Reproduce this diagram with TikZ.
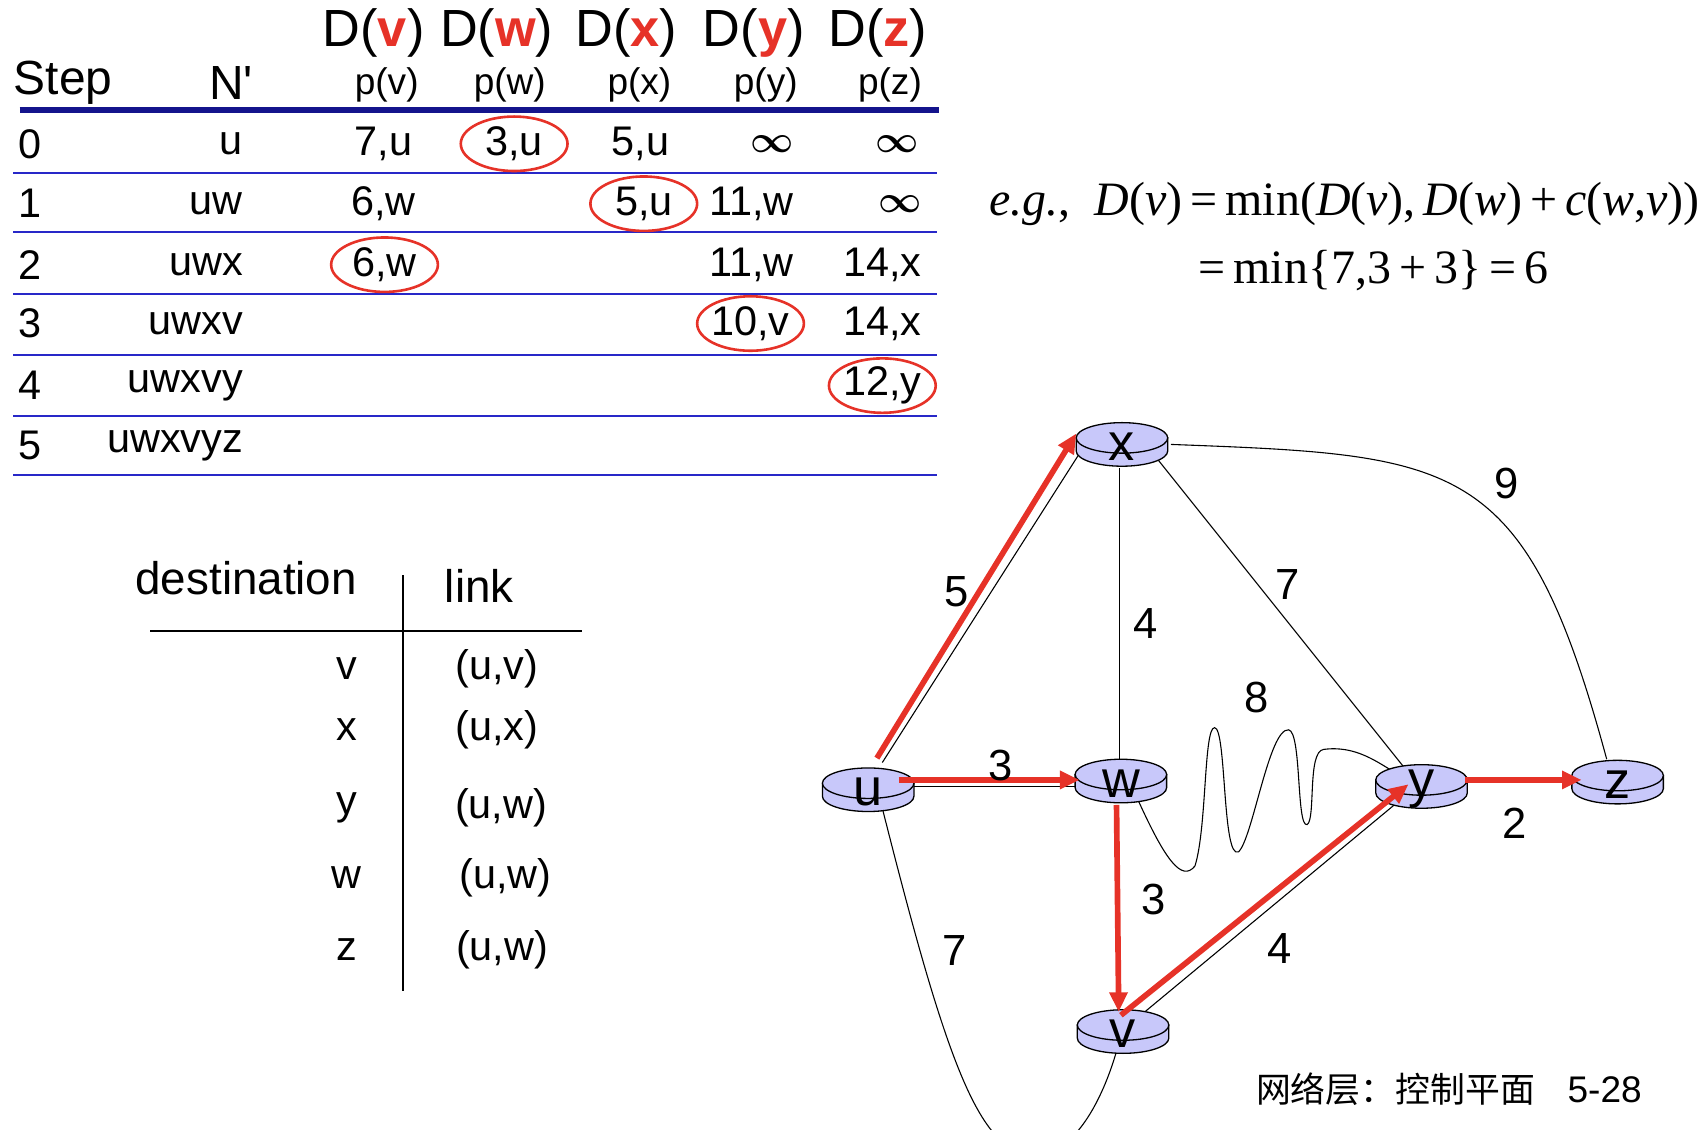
\documentclass[tikz,border=0pt]{standalone}
\usepackage{amsmath}
\usepackage{fontspec}
\setmainfont{Liberation Sans}
\newfontfamily\serf{Liberation Serif}
\newfontfamily\cjk{Noto Sans CJK SC}
\definecolor{navy}{RGB}{20,20,140}
\definecolor{rowblue}{RGB}{40,40,200}
\definecolor{redc}{RGB}{230,50,40}
\definecolor{lav}{RGB}{200,200,250}
\tikzset{
 hd/.style={font=\fontsize{24}{28}\selectfont},
 ph/.style={font=\fontsize{17}{20}\selectfont},
 cell/.style={font=\fontsize{19}{22}\selectfont},
 circ/.style={draw=redc,line width=1.2pt,ellipse,minimum width=49pt,minimum height=25pt,inner sep=0},
 lbl/.style={font=\fontsize{20}{22}\selectfont},
 rl/.style={font=\fontsize{24}{26}\selectfont},
 red/.style={draw=redc,line width=2.6pt,-{Triangle[length=9pt,width=8pt]}},
 thin/.style={draw=black,line width=0.5pt},
 rowline/.style={draw=rowblue,line width=1pt},
}
\usetikzlibrary{shapes.geometric,arrows.meta}
\newcommand{\router}[3]{%
 \fill[lav,draw=black,line width=0.6pt] (#1-42,#2-5) -- (#1-42,#2+7) arc[start angle=180,end angle=360,x radius=21pt,y radius=7pt] -- (#1+42,#2-5) -- cycle;
 \filldraw[fill=lav,draw=black,line width=0.6pt] (#1,#2-5) ellipse[x radius=21pt,y radius=7pt];
 \node[rl] (#3) at (#1,#2+3) {#3};}
\newcommand{\binf}{$\boldsymbol{\infty}$}
\begin{document}
\begin{tikzpicture}[x=0.5pt,y=-0.5pt]
\useasboundingbox (0,0) rectangle (1568,1037);
% header
\foreach \x/\l in {343/v,456/w,575/x,692/y,806/z}
 \node[hd] (D\l) at (\x,30) {D(\textcolor{redc}{\textbf{\l}})};
\foreach \x/\l in {355/v,468/w,587/x,703/y,817/z}
 \node[ph] (p\l) at (\x,78) {p(\l)};
\node[font=\fontsize{22}{26}\selectfont] (step) at (58,76) {Step};
\node[font=\fontsize{22}{26}\selectfont] (np) at (212,76) {N\textquotesingle};
\draw[navy,line width=3pt] (18,101) -- (862,101);
\foreach \y in {159,213,270,326,382,436} \draw[rowline] (12,\y) -- (860,\y);
\foreach \n/\y in {0/132,1/187,2/243,3/297,4/354,5/409}
 \node[cell] (s\n) at (28,\y) {\n};
\foreach \n/\y/\t in {0/132/u,1/187/uw,2/243/uwx,3/297/uwxv,4/354/uwxvy,5/409/uwxvyz}
 \node[cell,anchor=east] (n\n) at (230,\y) {\t};
\node[cell] (a1) at (352,132) {7,u};
\node[cell] (a2) at (472,132) {3,u};
\node[cell] (a3) at (588,132) {5,u};
\node[cell] (a4) at (709,132) {\binf};
\node[cell] (a5) at (824,132) {\binf};
\node[cell] (b1) at (352,187) {6,w};
\node[cell] (b2) at (591,187) {5,u};
\node[cell] (b3) at (690,187) {11,w};
\node[cell] (b4) at (826,187) {\binf};
\node[cell] (c1) at (353,243) {6,w};
\node[cell] (c2) at (690,243) {11,w};
\node[cell] (c3) at (810,243) {14,x};
\node[cell] (d1) at (689,297) {10,v};
\node[cell] (d2) at (810,297) {14,x};
\node[cell] (e1) at (810,354) {12,y};
\foreach \a in {a2,b2,c1,d1,e1} \node[circ] at (\a) {};
% equation
\node[font=\serf\fontsize{22}{26}\selectfont,anchor=west,inner sep=0] (eq1) at (908,187) {\textit{e.g.},\ \ \textit{D}(\textit{v})\,=\,min(\textit{D}(\textit{v}),\,\textit{D}(\textit{w})\,+\,\textit{c}(\textit{w},\textit{v}))};
\node[font=\serf\fontsize{22}{26}\selectfont,anchor=west,inner sep=0] (eq2) at (1100,248) {=\,min\{7,3\,+\,3\}\,=\,6};
% routing table
\node[cell,font=\fontsize{21}{24}\selectfont] (dest) at (226,531) {destination};
\node[cell,font=\fontsize{21}{24}\selectfont] (link) at (440,538) {link};
\draw[thin,line width=0.9pt] (370,528) -- (370,910);
\draw[thin,line width=0.9pt] (138,579) -- (534,579);
\foreach \d/\y/\x/\l in {v/614/456/{(u,v)},x/670/456/{(u,x)},y/742/460/{(u,w)},w/806/464/{(u,w)},z/872/461/{(u,w)}}{
 \node[cell] (t\d) at (318,\y) {\d};
 \node[cell] (l\d) at (\x,\y) {\l};}
% graph edges (thin)
\draw[thin] (810,700) -- (995,410);
\draw[thin] (1028,430) -- (1028,700);
\draw[thin] (1055,412) -- (1295,712);
\draw[thin] (1075,408) .. controls (1340,418) and (1400,420) .. (1475,697);
\draw[thin] (1045,735) .. controls (1070,790) and (1085,810) .. (1097,795)
 .. controls (1108,760) and (1105,668) .. (1115,668) .. controls (1126,668) and (1122,790) .. (1137,782)
 .. controls (1150,770) and (1165,668) .. (1183,670) .. controls (1195,672) and (1190,760) .. (1200,757)
 .. controls (1208,752) and (1200,690) .. (1215,688) .. controls (1245,684) and (1265,700) .. (1285,712);
\draw[thin] (810,742) .. controls (870,980) and (900,1060) .. (950,1060) .. controls (990,1060) and (1015,1000) .. (1025,965);
\draw[thin] (1040,938) -- (1298,724);
\draw[thin] (838,722) -- (990,722);
% routers
\router{1030}{407}{x}
\router{797}{724}{u}
\router{1029}{716}{w}
\router{1305}{721}{y}
\router{1485}{717}{z}
\router{1031}{946}{v}
% red arrows
\draw[red] ([shift={(8,-31)}]u.center) -- ([shift={(-42,-12)}]x.center);
\draw[red] ([shift={(28,-11)}]u.center) -- ([shift={(-38,-3)}]w.center);
\draw[red] ([shift={(-4,20)}]w.center) -- ([shift={(-4,-20)}]v.center);
\draw[red] ([shift={(-2,-17)}]v.center) -- ([shift={(-12,-4)}]y.center);
\draw[red] ([shift={(40,-8)}]y.center) -- ([shift={(-33,-4)}]z.center);
% labels
\node[lbl] (w5) at (878,543) {5};
\node[lbl] (w4a) at (1052,572) {4};
\node[lbl] (w7a) at (1182,537) {7};
\node[lbl] (w9) at (1383,444) {9};
\node[lbl] (w8) at (1154,640) {8};
\node[lbl] (w3a) at (919,703) {3};
\node[lbl] (w3b) at (1059,826) {3};
\node[lbl] (w4b) at (1175,871) {4};
\node[lbl] (w7b) at (876,873) {7};
\node[lbl] (w2) at (1390,756) {2};
\node[anchor=west,font=\cjk\fontsize{16}{18}\selectfont] (foot) at (1146,1000) {网络层：控制平面};
\node[anchor=west,font=\fontsize{17}{18}\selectfont] (pg) at (1432,1000) {5-28};
\end{tikzpicture}
\end{document}
